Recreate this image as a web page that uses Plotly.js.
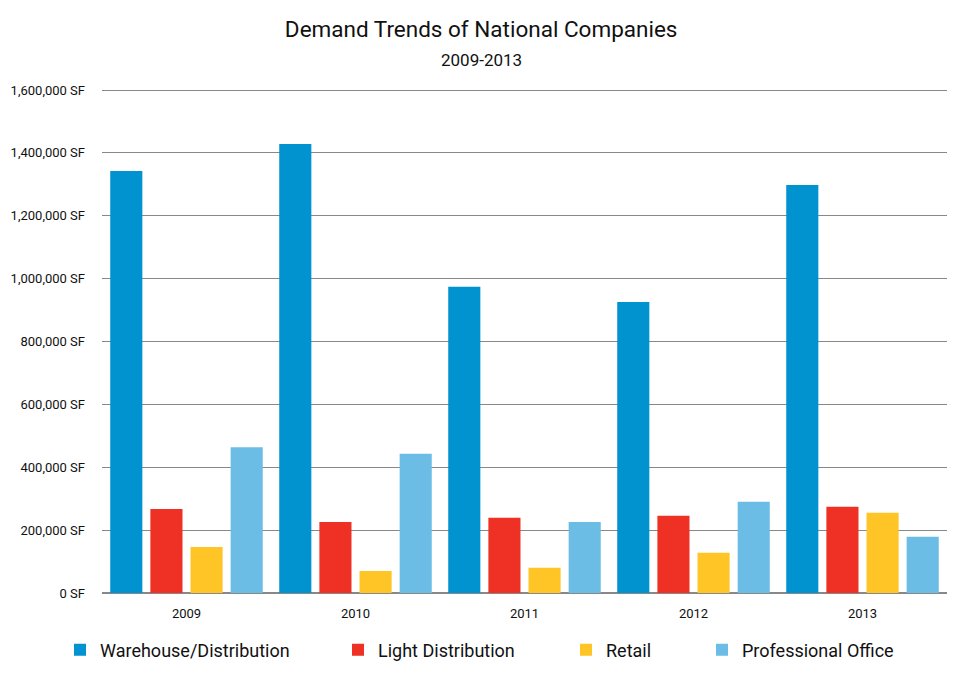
<!DOCTYPE html>
<html>
<head>
<meta charset="utf-8">
<script src="https://cdn.plot.ly/plotly-3.0.1.min.js"></script>
<style>html,body{margin:0;padding:0;background:#fff;}#chart{width:978px;height:674px;}</style>
</head>
<body>
<div id="chart"></div>
<script>
const years = ['2009', '2010', '2011', '2012', '2013'];
const warehouse = [1342000, 1428000, 974000, 926000, 1298000];
const lightDist = [267000, 226000, 239000, 246000, 274000];
const retail = [146000, 70000, 80000, 128000, 255000];
const profOffice = [464000, 443000, 226000, 290000, 179000];
const yTicks = [0, 200000, 400000, 600000, 800000, 1000000, 1200000, 1400000, 1600000];
const yTickText = yTicks.map(v => v.toLocaleString('en-US') + ' SF');

const FONT = 'Roboto, "DejaVu Sans", sans-serif';
const series = [
  {name: 'Warehouse/Distribution', y: warehouse, color: '#0093D0', legend: 'legend'},
  {name: 'Light Distribution', y: lightDist, color: '#EE3124', legend: 'legend2'},
  {name: 'Retail', y: retail, color: '#FFC425', legend: 'legend3'},
  {name: 'Professional Office', y: profOffice, color: '#6CBDE6', legend: 'legend4'}
];
const traces = series.map(s => ({
  type: 'bar', name: s.name, x: years, y: s.y,
  marker: {color: s.color, line: {width: 0}},
  legend: s.legend, hoverinfo: 'x+y+name'
}));

function leg(px) {
  return {xref: 'container', yref: 'container', x: px / 978, y: 1 - 650 / 674,
    xanchor: 'left', yanchor: 'middle', orientation: 'h', bgcolor: 'rgba(0,0,0,0)',
    font: {family: FONT, size: 18, color: '#111'}};
}

const layout = {
  width: 978, height: 674,
  margin: {l: 102, r: 31, t: 89, b: 81},
  paper_bgcolor: '#fff', plot_bgcolor: '#fff',
  font: {family: FONT, color: '#111'},
  barmode: 'group', bargap: 0.05, bargroupgap: 0.2,
  title: {
    text: 'Demand Trends of National Companies',
    font: {family: FONT, size: 22.5, color: '#111'},
    xref: 'container', x: 0.492, xanchor: 'center',
    yref: 'container', y: 1 - 29 / 674, yanchor: 'middle'
  },
  annotations: [{
    text: '2009-2013', showarrow: false,
    xref: 'paper', yref: 'paper', x: (481 - 102) / 844, y: 1 + (89 - 60) / 504,
    xanchor: 'center', yanchor: 'middle',
    font: {family: FONT, size: 17, color: '#111'}
  }],
  xaxis: {
    type: 'category', showgrid: false, zeroline: false, showline: false,
    ticks: '', tickfont: {family: FONT, size: 13, color: '#111'},
    ticklabelstandoff: 11
  },
  yaxis: {
    range: [0, 1603200], tickmode: 'array', tickvals: yTicks, ticktext: yTickText,
    showgrid: true, gridcolor: '#888', gridwidth: 1,
    zeroline: true, zerolinecolor: '#888', zerolinewidth: 1.5,
    showline: false, ticks: '', ticklabelstandoff: 16,
    tickfont: {family: FONT, size: 13, color: '#111'}
  },
  showlegend: true,
  legend: leg(60), legend2: leg(338), legend3: leg(566), legend4: leg(702)
};

Plotly.newPlot('chart', traces, layout, {displayModeBar: false, staticPlot: true});
</script>
</body>
</html>
